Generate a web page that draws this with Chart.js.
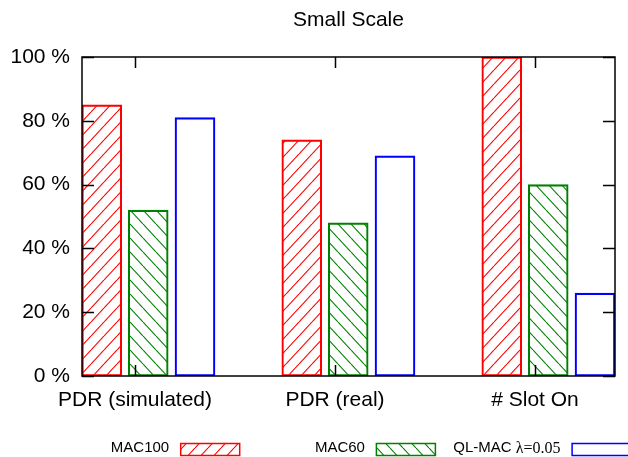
<!DOCTYPE html>
<html>
<head>
<meta charset="utf-8">
<script src="https://cdn.jsdelivr.net/npm/chart.js@4.4.0/dist/chart.umd.min.js"></script>
<style>
html,body{margin:0;padding:0;background:#fff;}
#wrap{width:628px;height:457px;position:relative;}
</style>
</head>
<body>
<div id="wrap"><canvas id="c" width="628" height="457"></canvas></div>
<script>
// ---- data ----
const categories = ["PDR (simulated)", "PDR (real)", "# Slot On"];
const seriesNames = ["MAC100", "MAC60", "QL-MAC λ=0.05"];
const mac100 = [85, 74, 100];
const mac60 = [52, 48, 60];
const qlmac = [81, 69, 26];
const yTicks = [0, 20, 40, 60, 80, 100];
const titleText = "Small Scale";

// ---- style ----
const colors = ["#ff0000", "#008000", "#0000ff"];
const hatch = ["/", "\\", null];
const offsets = [-0.166, 0.066, 0.3];
const seriesValues = [mac100, mac60, qlmac];

function makePattern(color, dir) {
  const w = 13, h = 14;
  const cv = document.createElement('canvas');
  cv.width = w; cv.height = h;
  const g = cv.getContext('2d');
  g.strokeStyle = color;
  g.lineWidth = 1.1;
  for (let k = -1; k <= 1; k++) {
    g.beginPath();
    if (dir === "/") { g.moveTo(k * w, h); g.lineTo(k * w + w, 0); }
    else { g.moveTo(k * w, 0); g.lineTo(k * w + w, h); }
    g.stroke();
  }
  return g.createPattern(cv, 'repeat');
}
const ctx0 = document.getElementById('c').getContext('2d');
const fills = colors.map((c, i) => hatch[i] ? makePattern(c, hatch[i]) : 'rgba(0,0,0,0)');

const datasets = seriesValues.map((vals, s) => ({
  label: seriesNames[s],
  data: vals.map((v, i) => ({ x: i + offsets[s], y: v })),
  backgroundColor: fills[s],
  borderColor: colors[s],
  borderWidth: 1.5,
  borderSkipped: false,
  barThickness: 40,
  grouped: false
}));

const FONT = "'Liberation Sans', Arial, Helvetica, sans-serif";

const framePlugin = {
  id: 'frame',
  afterDatasetsDraw(chart) {
    const { ctx, chartArea: a, scales } = chart;
    ctx.save();
    ctx.strokeStyle = '#000';
    ctx.lineWidth = 1.5;
    ctx.beginPath();
    yTicks.forEach(v => {
      const y = Math.round(scales.y.getPixelForValue(v)) + 0.5;
      ctx.moveTo(a.left, y); ctx.lineTo(a.left + 12, y);
      ctx.moveTo(a.right, y); ctx.lineTo(a.right - 12, y);
    });
    categories.forEach((c, i) => {
      const x = Math.round(scales.x.getPixelForValue(i)) + 0.5;
      ctx.moveTo(x, a.bottom); ctx.lineTo(x, a.bottom - 11);
      ctx.moveTo(x, a.top); ctx.lineTo(x, a.top + 11);
    });
    ctx.stroke();
    ctx.strokeRect(a.left, a.top, a.right - a.left, a.bottom - a.top);
    ctx.restore();
  },
  afterDraw(chart) {
    const { ctx, chartArea: a } = chart;
    ctx.save();
    ctx.fillStyle = '#000';
    ctx.font = "21px " + FONT;
    ctx.textAlign = 'center';
    ctx.textBaseline = 'middle';
    ctx.fillText(titleText, (a.left + a.right) / 2, 20);
    const sw = 59, sh = 12, sy = 443.5;
    chart.data.datasets.forEach((ds, i) => {
      const sx = 180.7 + i * 195.7;
      const label = ds.label;
      const li = label.indexOf('λ');
      const sansPart = li >= 0 ? label.slice(0, li) : label;
      const serifPart = li >= 0 ? label.slice(li) : '';
      const sansFont = "15px " + FONT;
      const serifFont = "16px 'Liberation Serif', 'Times New Roman', serif";
      ctx.font = serifFont;
      const wSerif = serifPart ? ctx.measureText(serifPart).width : 0;
      ctx.font = sansFont;
      const wSans = ctx.measureText(sansPart).width;
      const right = sx - 11.5;
      ctx.textAlign = 'left';
      ctx.textBaseline = 'middle';
      ctx.fillStyle = '#000';
      ctx.fillText(sansPart, right - wSerif - wSans, 448);
      if (serifPart) { ctx.font = serifFont; ctx.fillText(serifPart, right - wSerif, 449); }
      ctx.fillStyle = ds.backgroundColor;
      ctx.fillRect(sx, sy, sw, sh);
      ctx.strokeStyle = ds.borderColor;
      ctx.lineWidth = 1.5;
      ctx.strokeRect(sx, sy, sw, sh);
    });
    ctx.restore();
  }
};

new Chart(ctx0, {
  type: 'bar',
  data: { datasets },
  options: {
    responsive: false,
    animation: false,
    devicePixelRatio: 1,
    layout: { padding: { top: 57, right: 13, left: 0, bottom: 0 } },
    plugins: { legend: { display: false }, title: { display: false }, tooltip: { enabled: false } },
    scales: {
      x: {
        type: 'linear',
        min: -0.265,
        max: 2.4,
        offset: false,
        grid: { display: false, offset: false, drawTicks: false },
        border: { display: false },
        afterBuildTicks(scale) { scale.ticks = categories.map((c, i) => ({ value: i })); },
        afterFit(scale) { scale.height = 81; },
        ticks: {
          autoSkip: false, maxRotation: 0, padding: 12,
          color: '#000',
          font: { family: FONT, size: 21 },
          callback: v => categories[v]
        }
      },
      y: {
        min: 0, max: 100,
        grid: { display: false, drawTicks: false },
        border: { display: false },
        afterBuildTicks(scale) { scale.ticks = yTicks.map(v => ({ value: v })); },
        afterFit(scale) { scale.width = 82; },
        ticks: {
          padding: 12,
          color: '#000',
          font: { family: FONT, size: 21 },
          callback: v => v + ' %'
        }
      }
    }
  },
  plugins: [framePlugin]
});
</script>
</body>
</html>
